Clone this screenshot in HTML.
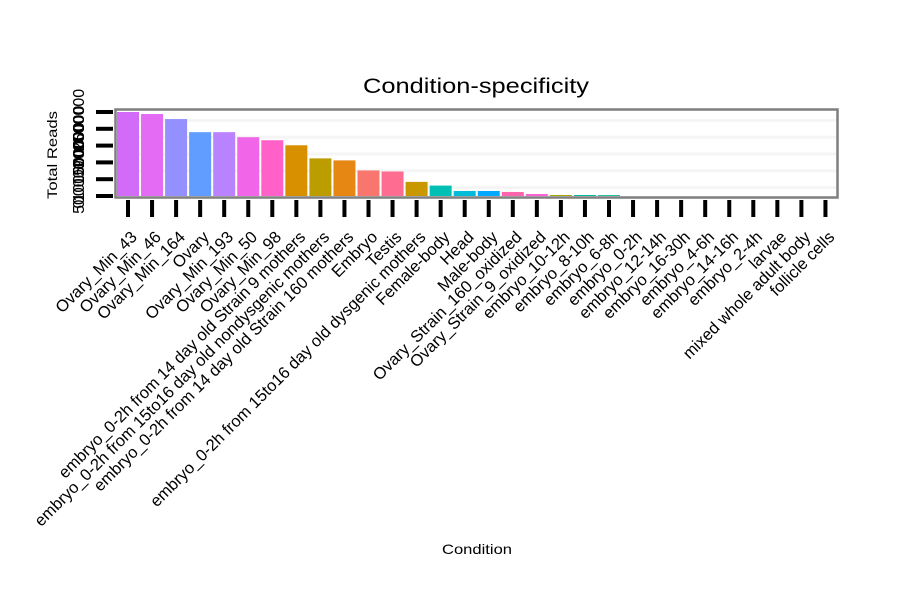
<!DOCTYPE html>
<html><head><meta charset="utf-8"><style>body{margin:0;background:#fff}svg{display:block;font-family:"Liberation Sans",sans-serif}</style></head>
<body>
<svg id="chart" width="900" height="600">
<text x="476" y="93" font-size="21" text-anchor="middle" textLength="226" lengthAdjust="spacingAndGlyphs">Condition-specificity</text>
<text x="477" y="554" font-size="14" text-anchor="middle" textLength="70" lengthAdjust="spacingAndGlyphs">Condition</text>
<text transform="translate(57,155) rotate(-90)" font-size="14" text-anchor="middle" textLength="88" lengthAdjust="spacingAndGlyphs">Total Reads</text>
<g id="grid"></g><g id="bars"></g><g id="axes"></g>
<rect x="115.5" y="109.5" width="722" height="88" fill="none" stroke="#7f7f7f" stroke-width="2.5"/>
</svg>
<script>
const categories=["Ovary_Min_43","Ovary_Min_46","Ovary_Min_164","Ovary","Ovary_Min_193","Ovary_Min_50","Ovary_Min_98","embryo_0-2h from 14 day old Strain 9 mothers","embryo_0-2h from 15to16 day old nondysgenic mothers","embryo_0-2h from 14 day old Strain 160 mothers","Embryo","Testis","embryo_0-2h from 15to16 day old dysgenic mothers","Female-body","Head","Male-body","Ovary_Strain_160_oxidized","Ovary_Strain_9_oxidized","embryo_10-12h","embryo_8-10h","embryo_6-8h","embryo_0-2h","embryo_12-14h","embryo_16-30h","embryo_4-6h","embryo_14-16h","embryo_2-4h","larvae","mixed whole adult body","follicle cells"];
const values=[2500000,2440000,2290000,1900000,1900000,1750000,1660000,1510000,1120000,1060000,760000,730000,420000,310000,150000,150000,120000,60000,30000,30000,25000,0,0,0,0,0,0,0,0,0];
const yTicks=[0,500000,1000000,1500000,2000000,2500000];
const colors=["#D26CF8","#E46CF4","#9590FF","#619CFF","#B983FF","#F166E8","#FF61C9","#D89000","#BB9D00","#E68613","#F8766D","#FF6C91","#C99800","#00C0B3","#00BCD8","#00A9FF","#FF65AC","#FC61D5","#A3A500","#00BA9E","#00B189","#39B600","#00BF7D","#7CAE00","#00C1A3","#AEA200","#6BB100","#00B0F6","#35A2FF","#E7861B"];
const ns="http://www.w3.org/2000/svg";
const x0=128,step=24.05,y0=196,ymax=2500000,ypx=84;
const xs=i=>x0+i*step;
const ys=v=>y0-v/ymax*ypx;
const grid=document.getElementById('grid'),bars=document.getElementById('bars'),axes=document.getElementById('axes');
yTicks.forEach((t,i)=>{
  const y=ys(t);
  if(i<yTicks.length-1){const m=ys((t+yTicks[i+1])/2);
    const g=document.createElementNS(ns,'rect');g.setAttribute('x',117);g.setAttribute('y',m-1.5);g.setAttribute('width',719);g.setAttribute('height',3);g.setAttribute('fill','#f5f5f5');
    
    grid.appendChild(g);}
  const tk=document.createElementNS(ns,'rect');tk.setAttribute('x',96);tk.setAttribute('y',y-2);tk.setAttribute('width',17);tk.setAttribute('height',4);tk.setAttribute('fill','#000');
  
  axes.appendChild(tk);
  const lb=document.createElementNS(ns,'text');lb.setAttribute('transform',`translate(84,${y+8}) rotate(-90)`);lb.setAttribute('font-size','16');lb.setAttribute('text-anchor','middle');lb.textContent=t;
  
  axes.appendChild(lb);
});
categories.forEach((c,i)=>{
  const x=xs(i),v=values[i];
  if(v>0){const r=document.createElementNS(ns,'rect');r.setAttribute('x',x-11);r.setAttribute('y',ys(v));r.setAttribute('width',22);r.setAttribute('height',y0-ys(v));r.setAttribute('fill',colors[i]);
    
    bars.appendChild(r);}
  const tk=document.createElementNS(ns,'rect');tk.setAttribute('x',x-2);tk.setAttribute('y',200);tk.setAttribute('width',4);tk.setAttribute('height',17);tk.setAttribute('fill','#000');
  
  axes.appendChild(tk);
  const lb=document.createElementNS(ns,'text');lb.setAttribute('transform',`translate(${x+10},238) rotate(-45)`);lb.setAttribute('font-size','16.5');lb.setAttribute('text-anchor','end');lb.textContent=c;
  
  axes.appendChild(lb);
});
</script>
</body></html>
